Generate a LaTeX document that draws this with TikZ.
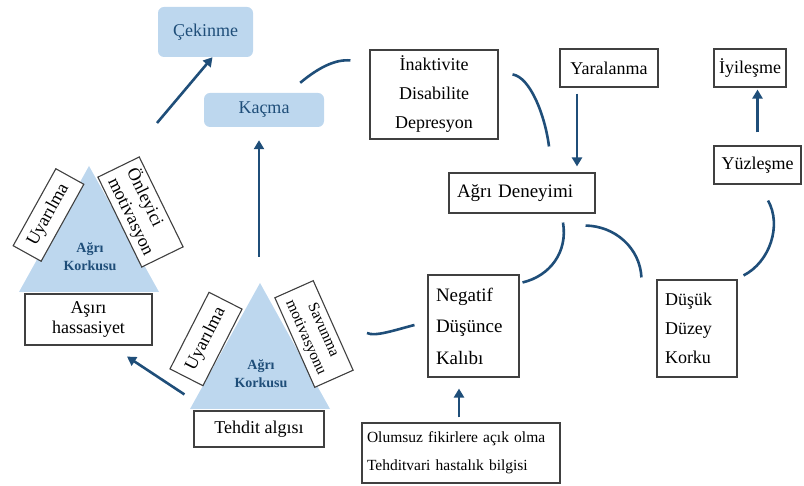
\documentclass[tikz,border=0pt]{standalone}
\usepackage{fontspec}
\setmainfont{Liberation Serif}
\usetikzlibrary{arrows.meta}
\definecolor{koyumavi}{RGB}{31,78,121}
\definecolor{acikmavi}{RGB}{189,215,238}

\begin{document}
\begin{tikzpicture}[x=1pt,y=-1pt,
  kutu/.style={draw=black!75,line width=1.1pt,fill=white,inner sep=0pt,font=\fontsize{18}{29}\selectfont},
  mavikutu/.style={fill=acikmavi,rounded corners=6pt,text=koyumavi,font=\fontsize{18}{22}\selectfont},
  ok/.style={draw=koyumavi,line width=2.6pt,-{Triangle[length=9pt,width=10pt]}},
  egri/.style={draw=koyumavi,line width=2.6pt},
  korku/.style={text=koyumavi,font=\bfseries\fontsize{14}{18}\selectfont,align=center}]
\useasboundingbox (0,0) rectangle (804,486);
% korku ucgenleri
\foreach \i/\tx/\ty in {1/89/166,2/260/283}{
  \coordinate (tepe\i) at (\tx,\ty);
  \fill[acikmavi] (tepe\i) -- ++(70,126) -- ++(-140,0) -- cycle;
  \node[korku] (korku\i) at (\tx+1,\ty+91) {Ağrı\\Korkusu};
}
% kutular
\node[mavikutu,minimum width=95,minimum height=50] (cekinme) at (205.5,32) {Çekinme};
\node[mavikutu,minimum width=120,minimum height=34] (kacma) at (264,110) {Kaçma};
\node[kutu,minimum width=128,minimum height=89,align=center] (inaktivite) at (434,94.5) {İnaktivite\\Disabilite\\Depresyon};
\node[kutu,minimum width=98,minimum height=38] (yaralanma) at (609,68) {Yaralanma};
\node[kutu,minimum width=72,minimum height=38] (iyilesme) at (750,68) {İyileşme};
\node[kutu,text width=130,inner xsep=8pt,minimum height=40,align=left,font=\fontsize{19}{29}\selectfont] (deneyim) at (522,193) {Ağrı Deneyimi};
\node[kutu,minimum width=87,minimum height=38] (yuzlesme) at (757.5,165) {Yüzleşme};
\node[kutu,text width=75,inner xsep=8pt,minimum height=102,align=left,font=\fontsize{19}{31.5}\selectfont] (negatif) at (473.5,326) {Negatif\\Düşünce\\Kalıbı};
\node[kutu,text width=64,inner xsep=8pt,minimum height=97,align=left] (dusuk) at (697,328.5) {Düşük\\Düzey\\Korku};
\node[kutu,text width=188,inner xsep=5pt,minimum height=60,align=left,font=\fontsize{15.5}{28}\selectfont] (olumsuz) at (461,453) {Olumsuz fikirlere açık olma\\Tehditvari hastalık bilgisi};
\node[kutu,minimum width=127,minimum height=51,align=center,font=\fontsize{18}{20}\selectfont] (asiri) at (88.5,319.5) {Aşırı\\hassasiyet};
\node[kutu,minimum width=130,minimum height=36] (tehdit) at (259,429) {Tehdit algısı};
\node[kutu,rotate=61,minimum width=88,minimum height=32] (uyarilma1) at (48.5,215) {Uyarılma};
\node[kutu,rotate=-64,minimum width=100,minimum height=46,align=left,font=\fontsize{18}{21}\selectfont] (onleyici) at (140.5,212) {Önleyici\\motivasyon};
\node[kutu,rotate=63,minimum width=86,minimum height=37] (uyarilma2) at (206,339) {Uyarılma};
\node[kutu,rotate=-66,minimum width=98,minimum height=42,align=center,font=\fontsize{15.5}{19}\selectfont] (savunma) at (314,334) {Savunma\\motivasyonu};
% oklar
\draw[ok] ([xshift=68pt,yshift=43pt]tepe1) -- ([xshift=7pt]cekinme.south);
\draw[ok] ([xshift=-1pt,yshift=26pt]tepe2) -- ([xshift=-5pt,yshift=-13pt]kacma.south);
\draw[ok] ([xshift=-32pt,yshift=-6pt]yaralanma.south) -- ([xshift=55pt,yshift=6pt]deneyim.north);
\draw[ok] ([xshift=-2pt,yshift=5pt]olumsuz.north) -- ([xshift=-14.5pt,yshift=-11pt]negatif.south);
\draw[ok] ([yshift=13pt]yuzlesme.north) -- ([xshift=7.5pt,yshift=-2pt]iyilesme.south);
\draw[ok] ([xshift=-9pt,yshift=16pt]tehdit.north west) -- ([xshift=38.5pt,yshift=-11pt]asiri.south);
% egriler
\draw[egri] ([xshift=-24pt,yshift=10pt]kacma.north east) .. controls (318,68) and (335,59) .. ([xshift=-19pt,yshift=-11pt]inaktivite.north west);
\draw[egri] ([xshift=14pt,yshift=-25pt]inaktivite.north east) .. controls (530,77) and (545,115) .. ([xshift=27pt,yshift=26pt]deneyim.north);
\draw[egri] ([xshift=41pt,yshift=-9pt]deneyim.south) .. controls (568,252) and (550,276) .. ([xshift=3pt,yshift=-8pt]negatif.north east);
\draw[egri] ([xshift=-10pt,yshift=-12pt]deneyim.south east) .. controls (615,226) and (640,248) .. ([xshift=-15pt,yshift=2pt]dusuk.north west);
\draw[egri] ([xshift=-13pt,yshift=1pt]negatif.west) .. controls (395,330) and (375,337) .. ([xshift=53pt,yshift=1pt]savunma.center);
\draw[egri] ([xshift=6pt,yshift=4pt]dusuk.north east) .. controls (770,262) and (782,225) .. ([xshift=10.5pt,yshift=-16pt]yuzlesme.south);
\end{tikzpicture}
\end{document}
